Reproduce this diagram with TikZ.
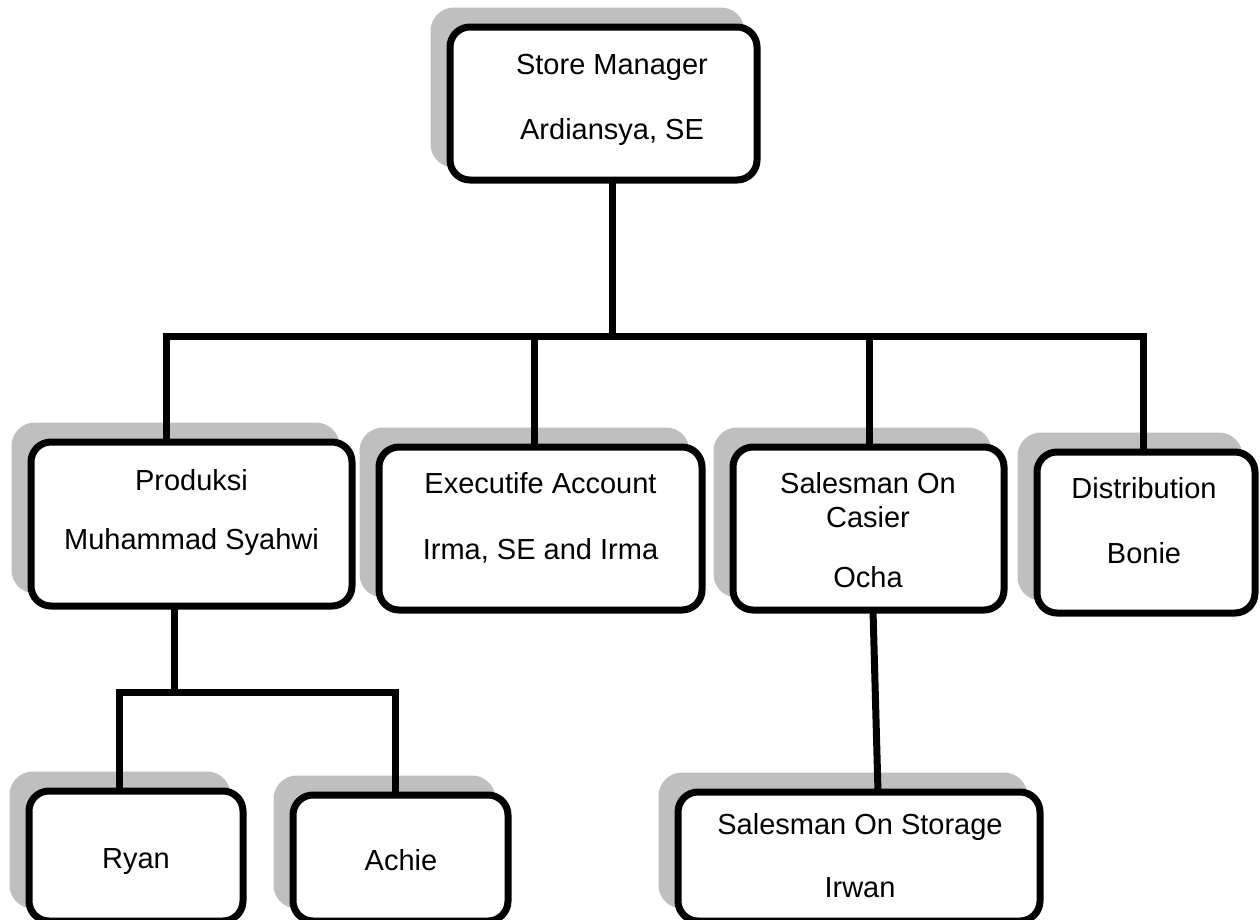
\documentclass[tikz,border=0pt]{standalone}
\usepackage{fontspec}
\setmainfont{Liberation Sans}
\usetikzlibrary{shadows,calc}
\tikzset{
  orgbox/.style={draw=black, fill=white, line width=7pt, rounded corners=20pt,
    inner sep=0pt, outer sep=0pt,
    general shadow={draw=black!25, fill=black!25, line width=7pt,
      shadow xshift=-16pt, shadow yshift=16pt}},
  txt/.style={anchor=base, inner sep=0pt, font=\fontsize{29}{33}\selectfont},
  conn/.style={draw=black, line width=7pt, line join=miter}
}
\begin{document}
\begin{tikzpicture}[x=1pt,y=-1pt]
\useasboundingbox (0,0) rectangle (1260,919);
\clip (0,0) rectangle (1260,919);
% boxes
\node[orgbox, minimum width=307pt, minimum height=153pt] (sm) at (603.5,103.5) {};
\node[orgbox, minimum width=321pt, minimum height=164pt] (prod) at (191.5,524) {};
\node[orgbox, minimum width=323pt, minimum height=163pt] (exec) at (540.5,528.5) {};
\node[orgbox, minimum width=271pt, minimum height=163pt] (casier) at (868.5,528.5) {};
\node[orgbox, minimum width=218pt, minimum height=161pt] (dist) at (1146,532.5) {};
\node[orgbox, minimum width=214pt, minimum height=130pt] (ryan) at (136,856) {};
\node[orgbox, minimum width=215pt, minimum height=126pt] (achie) at (400.5,858) {};
\node[orgbox, minimum width=362pt, minimum height=129pt] (storage) at (859,856.5) {};
% texts
\node[txt] (sm1) at (612,74) {Store Manager};
\node[txt] (sm2) at (612,139) {Ardiansya, SE};
\node[txt] (prod1) at (191.5,490) {Produksi};
\node[txt] (prod2) at (191.5,549) {Muhammad Syahwi};
\node[txt] (exec1) at (540.5,493) {Executife Account};
\node[txt] (exec2) at (540.5,559) {Irma, SE and Irma};
\node[txt] (cas1) at (868,493) {Salesman On};
\node[txt] (cas2) at (868,527) {Casier};
\node[txt] (cas3) at (868,587) {Ocha};
\node[txt] (dist1) at (1144,498) {Distribution};
\node[txt] (dist2) at (1144,563) {Bonie};
\node[txt] (ryan1) at (136,868) {Ryan};
\node[txt] (achie1) at (401,870) {Achie};
\node[txt] (sto1) at (860,834) {Salesman On Storage};
\node[txt] (sto2) at (860,897) {Irwan};
% junctions
\coordinate (jt) at (612,336);
\coordinate (jl) at (166,336);
\coordinate (je) at (534,336);
\coordinate (jc) at (869,336);
\coordinate (jr) at (1143,336);
\coordinate (jp) at (174,692);
\coordinate (jry) at (119.5,692);
\coordinate (jac) at (395,692);
% connectors
\draw[conn] (sm.south -| jt) -- (jt);
\draw[conn] (prod.north -| jl) -- (jl) -- (jr) -- (dist.north -| jr);
\draw[conn] (je) -- (exec.north -| je);
\draw[conn] (jc) -- (casier.north -| jc);
\draw[conn] (prod.south -| jp) -- (jp);
\draw[conn] (ryan.north -| jry) -- (jry) -- (jac) -- (achie.north -| jac);
\draw[conn] ($(casier.south)+(4.5,0)$) -- ($(storage.north)+(19,0)$);
\end{tikzpicture}
\end{document}
